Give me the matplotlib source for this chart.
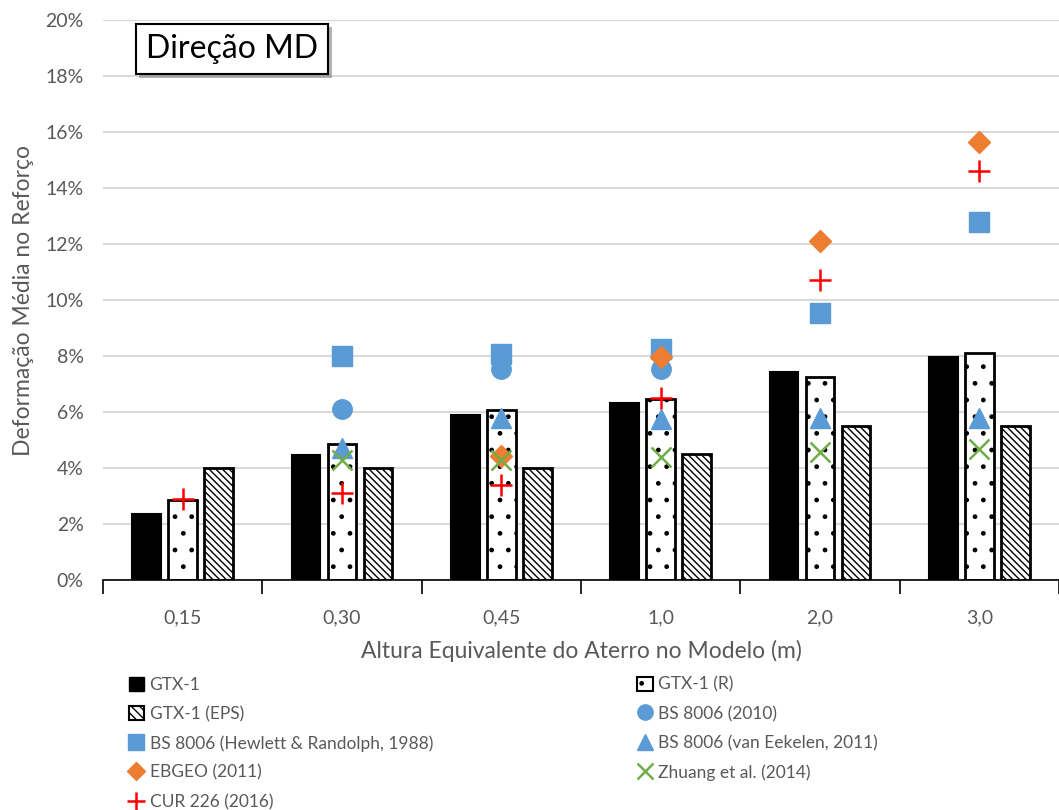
import matplotlib
matplotlib.use("Agg")
import matplotlib.pyplot as plt
import matplotlib.patheffects as pe
import numpy as np
from matplotlib.lines import Line2D
from matplotlib.patches import Patch

plt.rcParams['font.family'] = ['Lato', 'DejaVu Sans']
plt.rcParams['hatch.linewidth'] = 1.0

categories = ["0,15", "0,30", "0,45", "1,0", "2,0", "3,0"]
gtx1 = [2.35, 4.46, 5.9, 6.32, 7.43, 7.96]
gtx1_r = [2.86, 4.86, 6.07, 6.46, 7.25, 8.1]
gtx1_eps = [4.0, 4.0, 4.0, 4.5, 5.5, 5.5]

bs2010 = [np.nan, 6.1, 7.54, 7.54, np.nan, np.nan]
bs_hewlett = [np.nan, 8.0, 8.07, 8.25, 9.53, 12.8]
bs_vaneekelen = [np.nan, 4.7, 5.8, 5.75, 5.8, 5.8]
ebgeo = [np.nan, np.nan, 4.43, 7.96, 12.1, 15.64]
zhuang = [np.nan, 4.3, 4.3, 4.4, 4.57, 4.68]
cur226 = [2.9, 3.1, 3.4, 6.5, 10.7, 14.6]

fig = plt.figure(figsize=(10.59, 8.10), dpi=100)
ax = fig.add_axes([103/1059, 1-580/810, 1-103/1059, 560/810])

x = np.arange(len(categories))
w = 0.18
off = 0.225
ax.bar(x - off, gtx1, w, color='black', edgecolor='black', linewidth=1.5, zorder=2)
ax.bar(x, gtx1_r, w, color='white', edgecolor='black', linewidth=2, hatch='.', zorder=2)
ax.bar(x + off, gtx1_eps, w, color='white', edgecolor='black', linewidth=2, hatch='\\\\\\\\\\', zorder=2)

blue = '#5b9bd5'
ms = 14
ax.plot(x, bs2010, 'o', color=blue, ms=ms, zorder=3, linestyle='none')
ax.plot(x, bs_hewlett, 's', color=blue, ms=ms, zorder=3, linestyle='none')
ax.plot(x, bs_vaneekelen, '^', color=blue, ms=ms, zorder=3, linestyle='none')
ax.plot(x, ebgeo, 'D', color='#ed7d31', ms=11, zorder=3, linestyle='none')
ax.plot(x, zhuang, 'x', color='#70ad47', ms=14, mew=1.8, zorder=3, linestyle='none')
ax.plot(x, cur226, '+', color='#ff0000', ms=16, mew=1.8, zorder=4, linestyle='none')

ax.set_xlim(-0.5, len(categories) - 0.5)
ax.set_ylim(0, 20)
yt = np.arange(0, 21, 2)
ax.set_yticks(yt)
ax.set_yticklabels([f"{v}%" for v in yt], fontsize=14, color='#595959')
ax.yaxis.grid(True, color='#d9d9d9', linewidth=1.5, zorder=0)
ax.set_axisbelow(True)
ax.tick_params(axis='y', length=0, pad=14)

ax.set_xticks(x)
ax.set_xticklabels(categories, fontsize=14, color='#595959')
ax.set_xticks(np.arange(-0.5, len(categories), 1.0), minor=True)
ax.tick_params(axis='x', which='major', length=0, pad=21)
ax.tick_params(axis='x', which='minor', length=10, width=1.2, color='black')

for s in ['left', 'right', 'top']:
    ax.spines[s].set_visible(False)
ax.spines['bottom'].set_color('black')
ax.spines['bottom'].set_linewidth(1.2)

ax.set_xlabel("Altura Equivalente do Aterro no Modelo (m)", fontsize=16.5, color='#595959', labelpad=10)
ax.set_ylabel("Deformação Média no Reforço", fontsize=16.5, color='#595959', labelpad=8)

t = ax.text(0.045, 0.975, "Direção MD", transform=ax.transAxes, fontsize=23, va='top', ha='left',
            bbox=dict(boxstyle='square,pad=0.32', facecolor='white', edgecolor='black', linewidth=1.5), zorder=5)
t.get_bbox_patch().set_path_effects([pe.withSimplePatchShadow(offset=(2.5, -2.5), shadow_rgbFace='#808080', alpha=0.6)])

h_gtx1 = Patch(facecolor='black', edgecolor='black', label='GTX-1')
h_r = Patch(facecolor='white', edgecolor='black', hatch='.', linewidth=1.5, label='GTX-1 (R)')
h_eps = Patch(facecolor='white', edgecolor='black', hatch='\\\\\\\\', linewidth=1.5, label='GTX-1 (EPS)')
h_bs2010 = Line2D([], [], marker='o', color=blue, ls='none', ms=11, label='BS 8006 (2010)')
h_hew = Line2D([], [], marker='s', color=blue, ls='none', ms=11, label='BS 8006 (Hewlett & Randolph, 1988)')
h_van = Line2D([], [], marker='^', color=blue, ls='none', ms=11, label='BS 8006 (van Eekelen, 2011)')
h_eb = Line2D([], [], marker='D', color='#ed7d31', ls='none', ms=9, label='EBGEO (2011)')
h_zh = Line2D([], [], marker='x', color='#70ad47', ls='none', ms=11, mew=1.8, label='Zhuang et al. (2014)')
h_cur = Line2D([], [], marker='+', color='#ff0000', ls='none', ms=13, mew=1.8, label='CUR 226 (2016)')

handles = [h_gtx1, h_eps, h_hew, h_eb, h_cur, h_r, h_bs2010, h_van, h_zh]
fig.legend(handles=handles, labels=[h.get_label() for h in handles], ncol=2,
           loc='upper left', bbox_to_anchor=(120/1059, 1-668/810), frameon=False,
           fontsize=12.5, handlelength=0.9, handleheight=0.9, handletextpad=0.3,
           columnspacing=11.75, labelspacing=0.75, labelcolor='#595959', borderpad=0)

fig.savefig("out.png", dpi=100)
